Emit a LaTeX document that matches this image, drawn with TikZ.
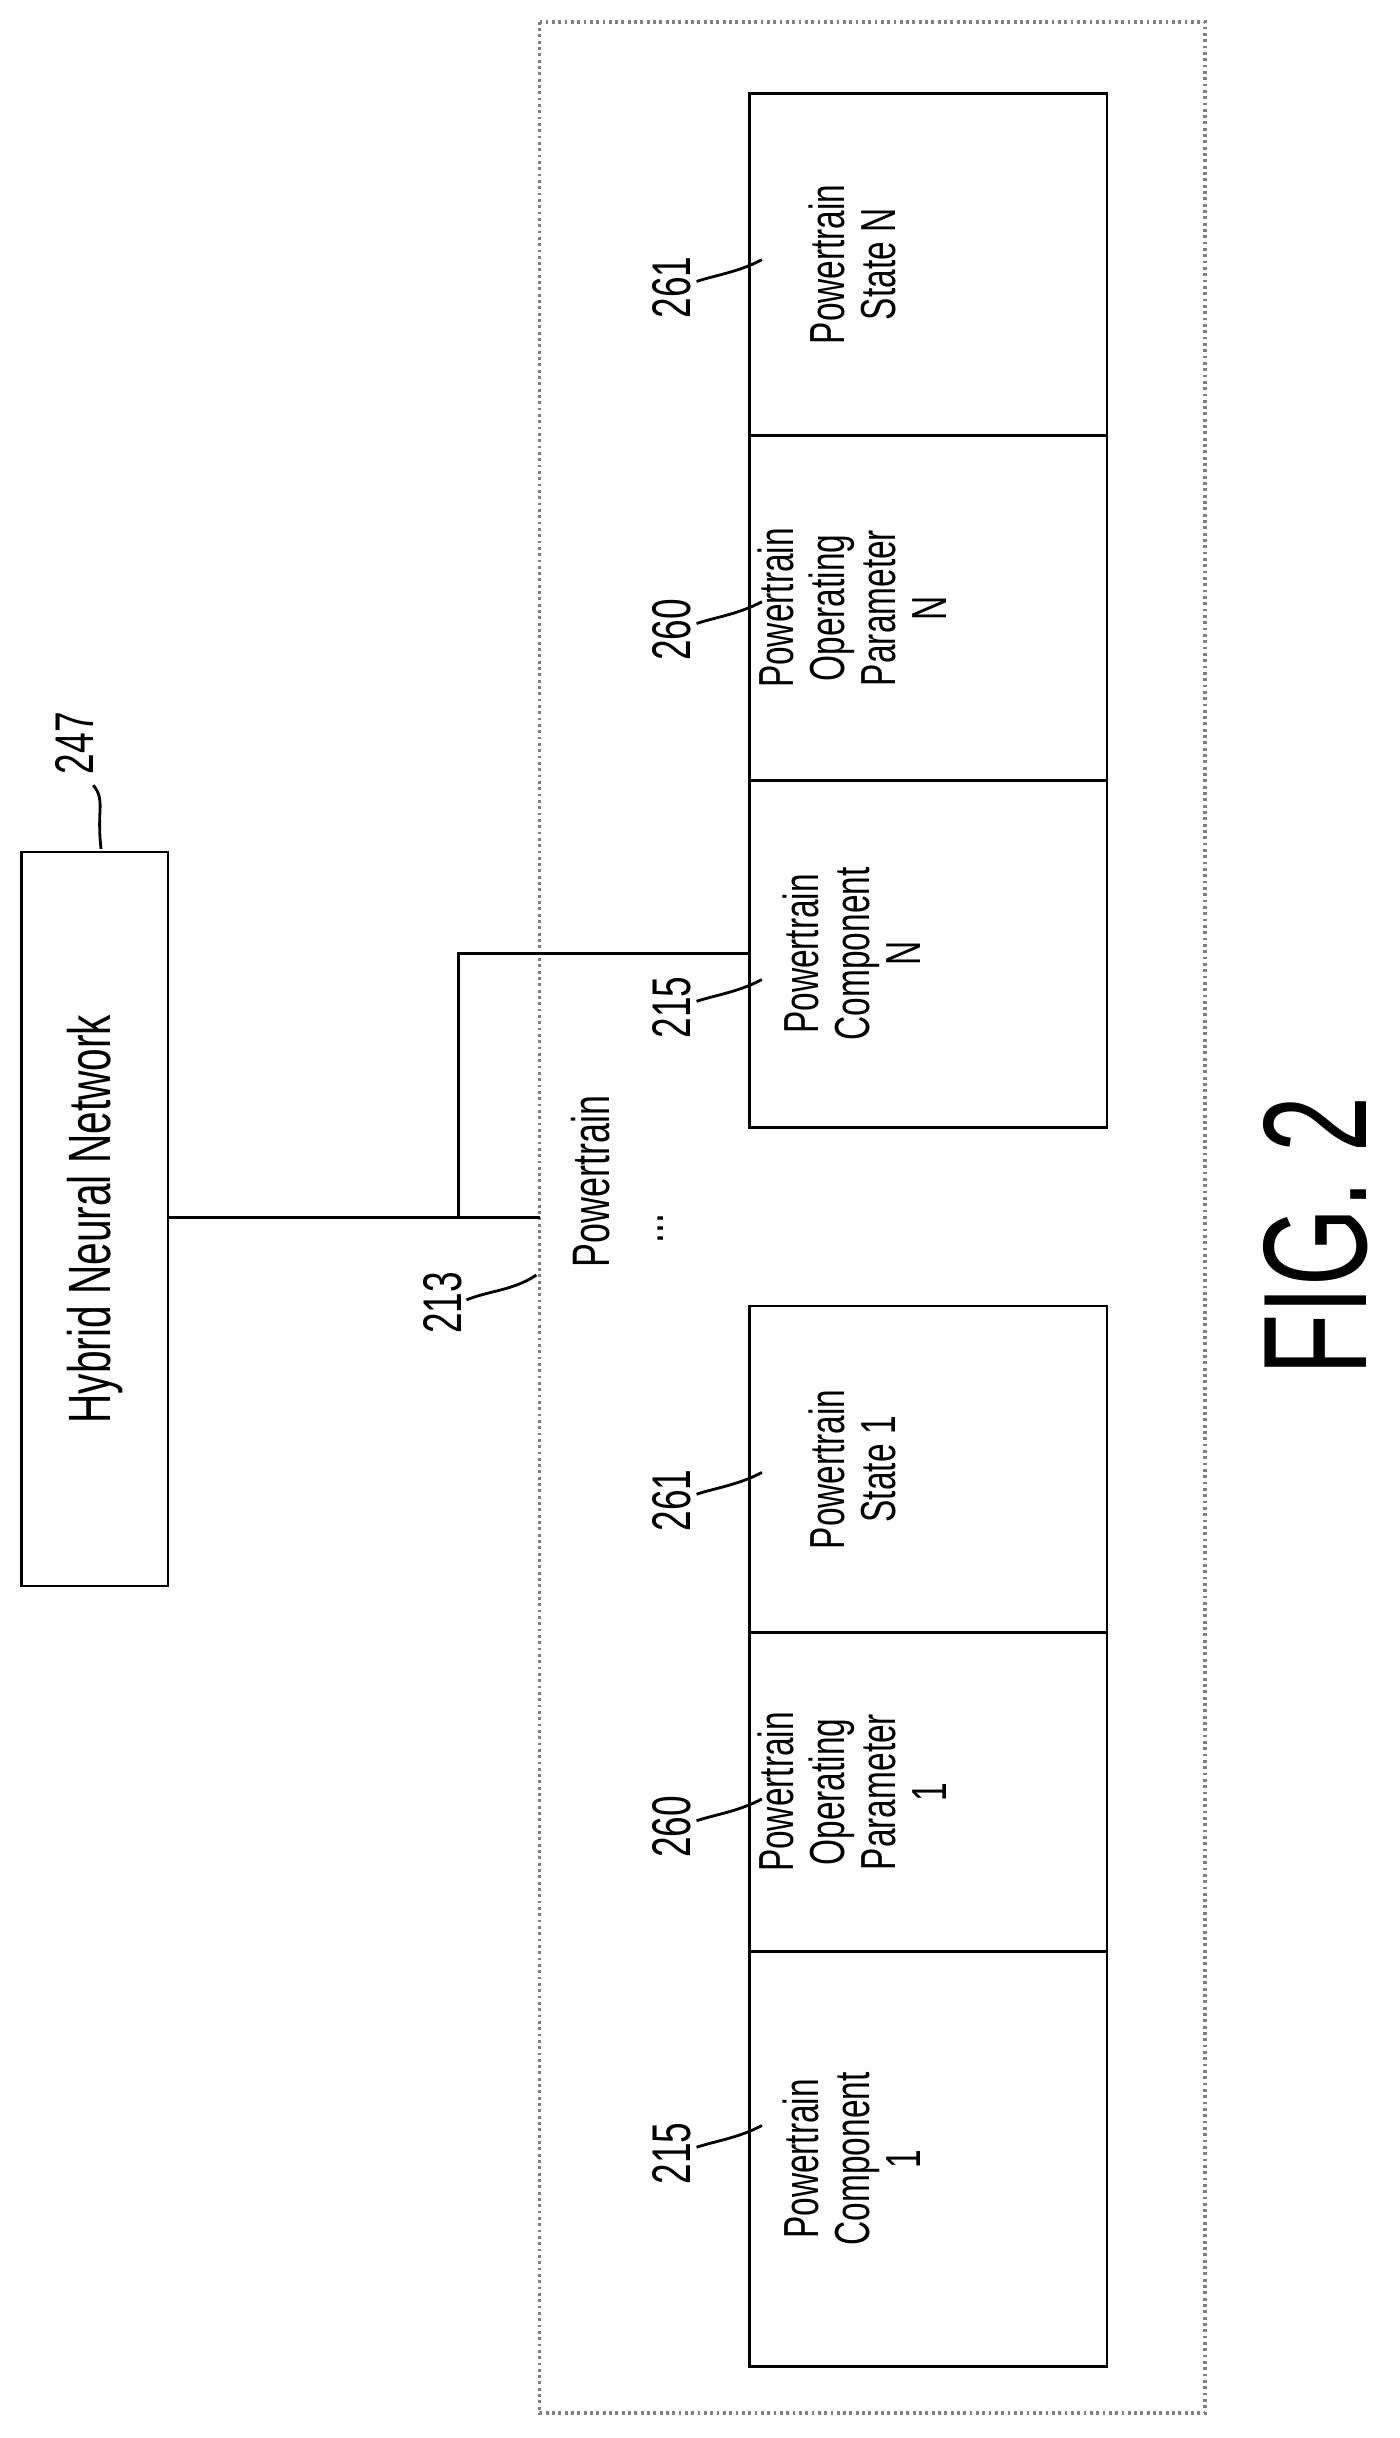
\documentclass[tikz,border=0pt]{standalone}
\usepackage{fontspec}
\setmainfont{Liberation Sans}[FakeStretch=0.68]
\begin{document}
\begin{tikzpicture}[x=0.01555cm,y=-0.01555cm,
  box/.style={draw,line width=0.8pt},
  txt/.style={rotate=90,align=center,inner sep=0pt,font=\fontsize{14}{14.5}\selectfont},
  lbl/.style={rotate=90,font=\fontsize{15.5}{18}\selectfont},
  lead/.style={line width=0.8pt}]
\useasboundingbox (0,0) rectangle (900,1568);
% outer
\draw[box,gray,densely dotted,line width=1pt] (347,14) rectangle (775,1552);
\node[txt,font=\fontsize{15}{18}\selectfont] (pt) at (380,760) {Powertrain};
% HNN
\draw[box] (14,548) rectangle (108,1020);
\node[txt,font=\fontsize{17}{20}\selectfont] (hnn) at (61,784) {Hybrid Neural Network};
\node[lbl] (l247) at (48,478) {247};
\draw[lead] (65,546) .. controls (62,520) and (68,515) .. (60,505);
% boxes
\foreach \a/\b/\n/\t in {60/280/sN/{Powertrain\\State N},280/502/oN/{Powertrain\\Operating\\Parameter\\N},502/725/cN/{Powertrain\\Component\\N},840/1050/s1/{Powertrain\\State 1},1050/1255/o1/{Powertrain\\Operating\\Parameter\\1},1255/1522/c1/{Powertrain\\Component\\1}}{
  \draw[box] (482,\a) rectangle (712,\b);
  \node[txt] (\n) at (548,{(\a+\b)/2}) {\t};
}
\foreach \y/\t/\n in {185/261/a,405/260/b,648/215/c,965/261/d,1175/260/e,1385/215/f}{
  \node[lbl] (lab\n) at (432,\y) {\t};
  \draw[lead] (448,{\y-4}) .. controls (460,{\y-8}) and (475,{\y-10}) .. (490,{\y-18});
}
% connectors
\coordinate (j) at (295,783);
\coordinate (k) at (295,613);
\draw[lead] (108,783) -- (347,783);
\draw[lead] (j) -- (k) -- (482,613);
\node[lbl] (l213) at (285,838) {213};
\draw[lead] (300,836) .. controls (315,830) and (330,830) .. (345,820);
\node[font=\fontsize{15}{18}\selectfont,rotate=90] (dots) at (425,790) {...};
\node[rotate=90,font=\fontsize{42}{46}\selectfont] (fig) at (846,795) {FIG. 2};
\end{tikzpicture}
\end{document}
